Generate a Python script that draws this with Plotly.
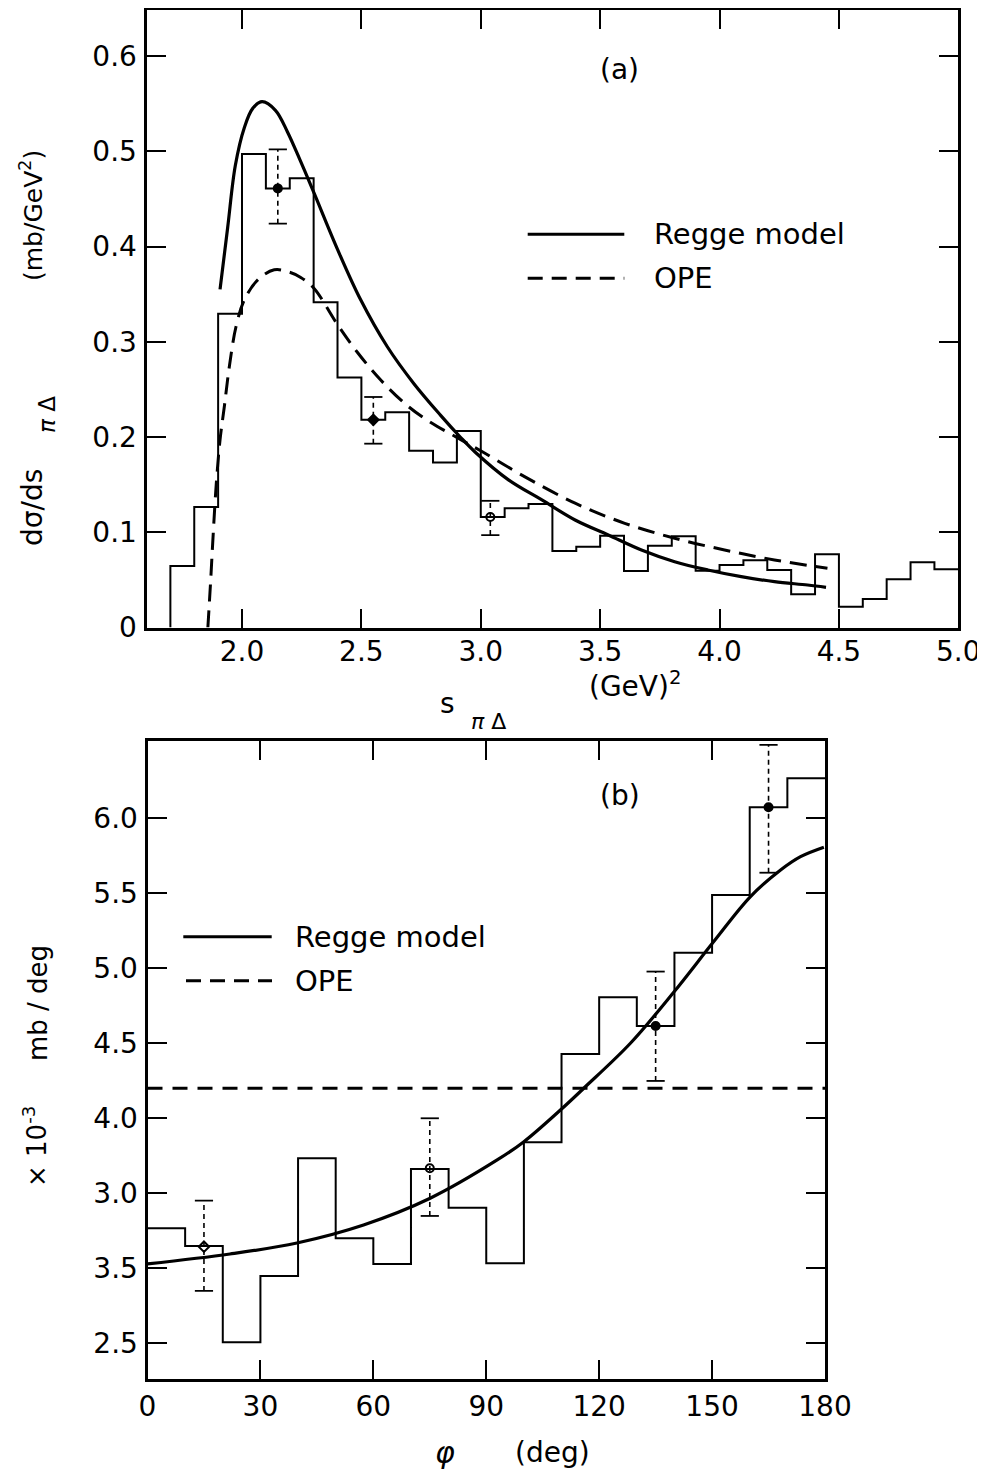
import plotly.graph_objects as go

PAGE_W, PAGE_H = 985, 1475
OFF = 8                      # browser body margin
W, H = PAGE_W - OFF, PAGE_H - OFF
FONT = "DejaVu Sans"

# ---------------- panel (a): d sigma / d s_piDelta ----------------
s_edges = [1.7, 1.8, 1.9, 2.0, 2.1, 2.2, 2.3, 2.4, 2.5, 2.6, 2.7, 2.8, 2.9, 3.0,
           3.1, 3.2, 3.3, 3.4, 3.5, 3.6, 3.7, 3.8, 3.9, 4.0, 4.1, 4.2, 4.3, 4.4,
           4.5, 4.6, 4.7, 4.8, 4.9, 5.0]
s_hist = [0.0645, 0.1266, 0.3295, 0.497, 0.461, 0.4716, 0.3414, 0.2625, 0.218,
          0.226, 0.1856, 0.1733, 0.2063, 0.116, 0.1252, 0.1297, 0.0803, 0.0849,
          0.0964, 0.0593, 0.0859, 0.0958, 0.0597, 0.0656, 0.0706, 0.0604, 0.0349,
          0.077, 0.0219, 0.030, 0.0507, 0.0686, 0.0611]

a_pts_x = [2.15, 2.55, 3.04]
a_pts_y = [0.461, 0.218, 0.116]
a_pts_hi = [0.502, 0.242, 0.133]
a_pts_lo = [0.424, 0.193, 0.097]
a_pts_sym = ["circle", "diamond", "circle-open"]

regge_a_x = [1.908, 1.94, 1.972, 2.01, 2.045, 2.084, 2.14, 2.191, 2.246, 2.302,
             2.40, 2.497, 2.608, 2.72, 2.831, 2.914, 2.977, 3.116, 3.256, 3.395,
             3.534, 3.673, 3.812, 3.951, 4.091, 4.23, 4.369, 4.446]
regge_a_y = [0.355, 0.42, 0.485, 0.525, 0.545, 0.552, 0.543, 0.520, 0.489, 0.456,
             0.397, 0.344, 0.295, 0.256, 0.223, 0.200, 0.184, 0.155, 0.1339, 0.1129,
             0.0972, 0.0814, 0.0691, 0.0604, 0.0534, 0.0481, 0.0446, 0.0422]

ope_a_x = [1.857, 1.868, 1.878, 1.892, 1.908, 1.926, 1.947, 1.975, 2.01, 2.066, 2.135,
           2.2, 2.246, 2.302, 2.40, 2.483, 2.58, 2.692, 2.789, 2.9, 3.005, 3.172,
           3.395, 3.603, 3.812, 4.021, 4.23, 4.452]
ope_a_y = [0.0, 0.046, 0.092, 0.15, 0.197, 0.232, 0.274, 0.316, 0.344, 0.365, 0.3755,
           0.373, 0.3675, 0.356, 0.318, 0.289, 0.26, 0.233, 0.2155, 0.1995, 0.1847, 0.160,
           0.1305, 0.1094, 0.0937, 0.0814, 0.0709, 0.0622]

a_xticks = [2.0, 2.5, 3.0, 3.5, 4.0, 4.5, 5.0]
a_xticktext = ["2.0", "2.5", "3.0", "3.5", "4.0", "4.5", "5.0"]
a_yticks = [0, 0.1, 0.2, 0.3, 0.4, 0.5, 0.6]
a_yticktext = ["0", "0.1", "0.2", "0.3", "0.4", "0.5", "0.6"]

# ---------------- panel (b): phi distribution ----------------
phi_edges = [0, 10, 20, 30, 40, 50, 60, 70, 80, 90, 100, 110, 120, 130, 140, 150,
             160, 170, 180]
phi_hist = [3.267, 3.149, 2.507, 2.949, 3.733, 3.2, 3.029, 3.662, 3.404, 3.033,
            3.84, 4.429, 4.807, 4.615, 5.104, 5.489, 6.073, 6.267]

b_pts_x = [15, 75, 135, 165]
b_pts_y = [3.144, 3.667, 4.615, 6.073]
b_pts_hi = [3.451, 4.0, 4.978, 6.489]
b_pts_lo = [2.849, 3.349, 4.249, 5.637]
b_pts_sym = ["diamond-open", "circle-open", "circle", "circle"]

regge_b_x = [0, 21.9, 39.7, 57.4, 75.1, 92.9, 100, 109.7, 115.9, 128.3, 139.8,
             150.5, 160.2, 168.2, 173.5, 179.7]
regge_b_y = [3.029, 3.095, 3.169, 3.289, 3.467, 3.722, 3.844, 4.055, 4.2, 4.5,
             4.84, 5.18, 5.478, 5.655, 5.744, 5.807]
ope_b_level = 4.2

b_xticks = [0, 30, 60, 90, 120, 150, 180]
b_xticktext = ["0", "30", "60", "90", "120", "150", "180"]
b_yticks = [2.5, 3.0, 3.5, 4.0, 4.5, 5.0, 5.5, 6.0]
b_yticktext = ["2.5", "3.5", "3.0", "4.0", "4.5", "5.0", "5.5", "6.0"]


def px(x):
    return (x - OFF) / W


def py(y):
    return 1 - (y - OFF) / H


fig = go.Figure()

# ---- panel (a) traces ----
fig.add_trace(go.Scatter(
    x=[s_edges[0]] + s_edges, y=[0] + s_hist + [s_hist[-1]],
    mode="lines", line=dict(color="black", width=2, shape="hv"),
    xaxis="x", yaxis="y", showlegend=False))
fig.add_trace(go.Scatter(
    x=regge_a_x, y=regge_a_y, mode="lines",
    line=dict(color="black", width=3.2, shape="spline", smoothing=1.0),
    xaxis="x", yaxis="y", showlegend=False))
fig.add_trace(go.Scatter(
    x=ope_a_x, y=ope_a_y, mode="lines",
    line=dict(color="black", width=3, dash="17px,9px", shape="spline", smoothing=1.0),
    xaxis="x", yaxis="y", showlegend=False))


def add_points(xs, ys, lo, hi, syms, xa, ya):
    ex, ey = [], []
    for x, l, h in zip(xs, lo, hi):
        ex += [x, x, None]
        ey += [l, h, None]
    fig.add_trace(go.Scatter(x=ex, y=ey, mode="lines",
                             line=dict(color="black", width=1.6, dash="5px,4px"),
                             xaxis=xa, yaxis=ya, showlegend=False))
    fig.add_trace(go.Scatter(x=xs + xs, y=lo + hi, mode="markers",
                             marker=dict(symbol="line-ew", size=13,
                                         line=dict(color="black", width=1.8)),
                             xaxis=xa, yaxis=ya, showlegend=False))
    fig.add_trace(go.Scatter(x=xs, y=ys, mode="markers",
                             marker=dict(symbol=syms, size=8, color="black",
                                         line=dict(color="black", width=2)),
                             xaxis=xa, yaxis=ya, showlegend=False))


add_points(a_pts_x, a_pts_y, a_pts_lo, a_pts_hi, a_pts_sym, "x", "y")

# ---- panel (b) traces ----
fig.add_trace(go.Scatter(
    x=phi_edges, y=phi_hist + [phi_hist[-1]],
    mode="lines", line=dict(color="black", width=2, shape="hv"),
    xaxis="x2", yaxis="y2", showlegend=False))
fig.add_trace(go.Scatter(
    x=regge_b_x, y=regge_b_y, mode="lines",
    line=dict(color="black", width=3.2, shape="spline", smoothing=1.0),
    xaxis="x2", yaxis="y2", showlegend=False))
fig.add_trace(go.Scatter(
    x=[phi_edges[0], phi_edges[-1]], y=[ope_b_level, ope_b_level], mode="lines",
    line=dict(color="black", width=3, dash="15px,10px"),
    xaxis="x2", yaxis="y2", showlegend=False))
add_points(b_pts_x, b_pts_y, b_pts_lo, b_pts_hi, b_pts_sym, "x2", "y2")

axis_common = dict(
    showline=True, linecolor="black", linewidth=3, mirror="ticks",
    ticks="inside", ticklen=19, tickwidth=2, tickcolor="black",
    showgrid=False, zeroline=False, automargin=False,
    tickfont=dict(family=FONT, size=28, color="black"),
)

fig.update_layout(
    width=W, height=H,
    margin=dict(l=0, r=0, t=0, b=0),
    paper_bgcolor="white", plot_bgcolor="white",
    showlegend=False,
    xaxis=dict(axis_common, domain=[px(146.5), px(958.3)], range=[1.6, 5.0],
               anchor="y", tickmode="array", tickvals=a_xticks, ticktext=a_xticktext,
               ticklabelstandoff=-3),
    yaxis=dict(axis_common, domain=[py(627.5), py(9.8)], range=[0, 0.6485],
               anchor="x", tickmode="array", tickvals=a_yticks, ticktext=a_yticktext,
               ticklabelstandoff=1),
    xaxis2=dict(axis_common, domain=[px(147.5), px(825)], range=[0, 180],
                anchor="y2", tickmode="array", tickvals=b_xticks, ticktext=b_xticktext,
                ticklabelstandoff=0),
    yaxis2=dict(axis_common, domain=[py(1379), py(741)], range=[2.262, 6.515],
                anchor="x2", tickmode="array", tickvals=b_yticks, ticktext=b_yticktext,
                ticklabelstandoff=1),
)


def note(text, x, y, size=26, angle=0, xanchor="center"):
    fig.add_annotation(text=text, x=px(x), y=py(y), xref="paper", yref="paper",
                       showarrow=False, textangle=angle, xanchor=xanchor,
                       yanchor="middle",
                       font=dict(family=FONT, size=size, color="black"))


# panel labels
note("(a)", 619, 70, size=28)
note("(b)", 620, 795, size=28)

# axis titles
note("(mb/GeV<sup>2</sup>)", 32, 216, size=25, angle=-90)
note("dσ/ds", 33, 508, size=28, angle=-90)
note("<i>π</i> Δ", 47, 415, size=23, angle=-90)
note("s", 447, 703, size=28)
note("<i>π</i> Δ", 488, 721, size=22)
note("(GeV)<sup>2</sup>", 635, 684, size=28)

note("mb / deg", 38, 1003, size=26, angle=-90)
note("× 10<sup>-3</sup>", 35, 1147, size=26, angle=-90)
note("<i>φ</i>", 445, 1452, size=30)
note("(deg)", 552, 1452, size=28)


# legends (key lines + text)
def key(x0, x1, y, dash):
    fig.add_shape(type="line", xref="paper", yref="paper",
                  x0=px(x0), x1=px(x1), y0=py(y), y1=py(y),
                  line=dict(color="black", width=3, dash=dash))


key(527.7, 624.3, 234.3, "solid")
key(527.7, 624.3, 278.3, "15px,9px")
note("Regge model", 652, 234, size=29, xanchor="left")
note("OPE", 652, 278, size=29, xanchor="left")

key(183.3, 271.7, 936.7, "solid")
key(186, 272, 980.7, "15px,9px")
note("Regge model", 293, 937, size=29, xanchor="left")
note("OPE", 293, 981, size=29, xanchor="left")

fig.write_html("out.html")
